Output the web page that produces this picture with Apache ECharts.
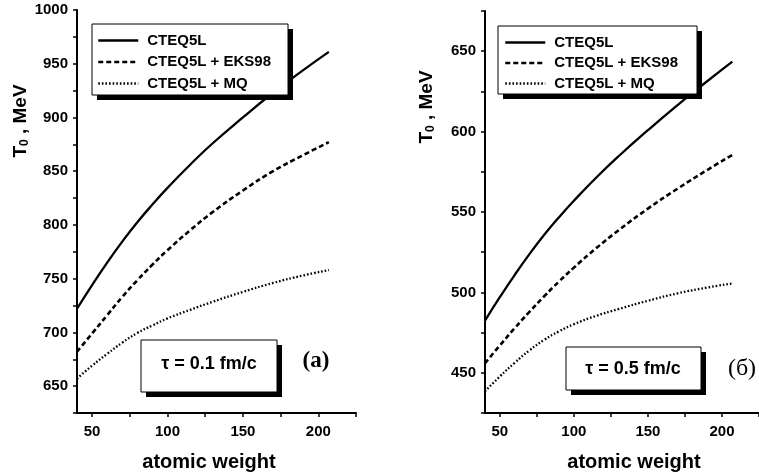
<!DOCTYPE html>
<html>
<head>
<meta charset="utf-8">
<script src="https://cdn.jsdelivr.net/npm/echarts@6/dist/echarts.min.js"></script>
<style>html,body{margin:0;padding:0;background:#fff;}#c{width:759px;height:476px;}</style>
</head>
<body>
<div id="c"></div>
<script>
// atomic weight grid
const A = [40, 50, 60, 70, 80, 90, 100, 115, 130, 150, 170, 190, 207];
// panel (a): tau = 0.1 fm/c
const a_cteq   = [722, 744, 765, 784.5, 802.5, 819, 834.5, 856, 876, 900, 923, 944, 961];
const a_eks98  = [682, 699, 716, 733, 748.5, 763, 776.5, 795, 812, 832, 850, 865, 877];
const a_mq     = [657, 669, 680, 690.5, 699.5, 706.5, 713, 721, 728.5, 737.7, 746, 753, 758];
// panel (б): tau = 0.5 fm/c
const b_cteq   = [482.5, 497, 510.8, 523.8, 535.8, 546.8, 557, 571.3, 584.5, 600.9, 616.5, 631.3, 643.5];
const b_eks98  = [456, 467, 477.7, 487.9, 497.6, 506.8, 515.4, 527.4, 538.5, 552.1, 564.5, 576.1, 585.5];
const b_mq     = [438.5, 447.7, 456.2, 463.9, 470.5, 475.8, 480.2, 485.4, 489.6, 494.8, 499.4, 503, 505.6];
// ticks
const xLabels = [50, 100, 150, 200];
const xTicks = [50, 75, 100, 125, 150, 175, 200, 225];
const names = ['CTEQ5L', 'CTEQ5L + EKS98', 'CTEQ5L + MQ'];

const pair = arr => A.map((a, i) => [a, arr[i]]);
const styles = [
  {color: '#000', width: 2.3, type: 'solid'},
  {color: '#000', width: 2.6, type: [5, 3]},
  {color: '#000', width: 2.3, type: [1.6, 2]}
];
function mk(name, data, idx, si) {
  return {name, type: 'line', data: pair(data), xAxisIndex: idx, yAxisIndex: idx,
    smooth: true, symbol: 'none', showSymbol: false, lineStyle: styles[si], itemStyle: {color: '#000'},
    emphasis: {disabled: true}, animation: false};
}
const lbl = {fontFamily: 'Liberation Sans, Arial', fontWeight: 'bold', fontSize: 15, color: '#000'};
function xAx(idx) {
  return {type: 'value', gridIndex: idx, min: 40, max: 225,
    axisLine: {show: true, lineStyle: {color: '#000', width: 2}},
    axisTick: {show: true, length: 4, lineStyle: {color: '#000', width: 1.5}, customValues: xTicks},
    axisLabel: Object.assign({margin: 11, customValues: xLabels}, lbl),
    splitLine: {show: false}};
}
function yAx(idx, min, max) {
  return {type: 'value', gridIndex: idx, min, max, interval: 25,
    axisLine: {show: true, lineStyle: {color: '#000', width: 2}},
    axisTick: {show: true, length: 4, lineStyle: {color: '#000', width: 1.5}},
    axisLabel: Object.assign({margin: 9, formatter: v => (v % 50 === 0 ? String(v) : '')}, lbl),
    splitLine: {show: false}};
}
function legend(left, top, gap) {
  return {orient: 'vertical', left, top, padding: 0, itemWidth: 40, itemHeight: 14, itemGap: gap,
    data: names, selectedMode: false,
    itemStyle: {opacity: 0},
    lineStyle: {width: 2.5},
    textStyle: Object.assign({}, lbl, {padding: [0, 0, 0, 4]}), z: 10};
}
function box(x, y, w, h) {
  return [
    {type: 'rect', z: 5, shape: {x: x + 5, y: y + 5, width: w, height: h}, style: {fill: '#000'}},
    {type: 'rect', z: 6, shape: {x, y, width: w, height: h}, style: {fill: '#fff', stroke: '#000', lineWidth: 1}}
  ];
}
const yname = (x, y) => ({type: 'text', z: 7, x, y, rotation: Math.PI / 2,
  style: {text: '{a|T}{s|0}{a| , MeV}', align: 'center', verticalAlign: 'middle',
    rich: {a: {fontFamily: 'Liberation Sans, Arial', fontWeight: 'bold', fontSize: 19, fill: '#000'},
           s: {fontFamily: 'Liberation Sans, Arial', fontWeight: 'bold', fontSize: 12, fill: '#000', padding: [8, 0, 0, 0]}}}});
const txt = (x, y, text, font) => ({type: 'text', z: 7, x, y,
  style: {text, font, fill: '#000', align: 'center', verticalAlign: 'middle'}});

const chart = echarts.init(document.getElementById('c'));
chart.setOption({
  backgroundColor: '#fff',
  animation: false,
  grid: [
    {left: 77, top: 10, width: 279, height: 403},
    {left: 485, top: 11, width: 277.5, height: 402}
  ],
  xAxis: [xAx(0), xAx(1)],
  yAxis: [yAx(0, 625, 1000), yAx(1, 425, 675)],
  legend: [legend(97, 33, 6.5), legend(504, 35, 5.5)],
  series: [
    mk(names[0], a_cteq, 0, 0), mk(names[1], a_eks98, 0, 1), mk(names[2], a_mq, 0, 2),
    mk(names[0], b_cteq, 1, 0), mk(names[1], b_eks98, 1, 1), mk(names[2], b_mq, 1, 2)
  ],
  graphic: [
    ...box(92, 24, 196, 71),
    ...box(498, 26, 199, 68),
    ...box(141, 340, 136, 52),
    ...box(566, 347, 135, 43),
    txt(209, 364, 'τ = 0.1 fm/c', 'bold 18px Liberation Sans, Arial'),
    txt(633, 369, 'τ = 0.5 fm/c', 'bold 18px Liberation Sans, Arial'),
    txt(316, 361, '(a)', 'bold 23px Liberation Serif, Times New Roman'),
    txt(742, 369, '(б)', '24px Liberation Serif, Times New Roman'),
    txt(209, 462, 'atomic weight', 'bold 20px Liberation Sans, Arial'),
    txt(634, 462, 'atomic weight', 'bold 20px Liberation Sans, Arial'),
    yname(21, 121),
    yname(427, 107)
  ]
});
</script>
</body>
</html>
